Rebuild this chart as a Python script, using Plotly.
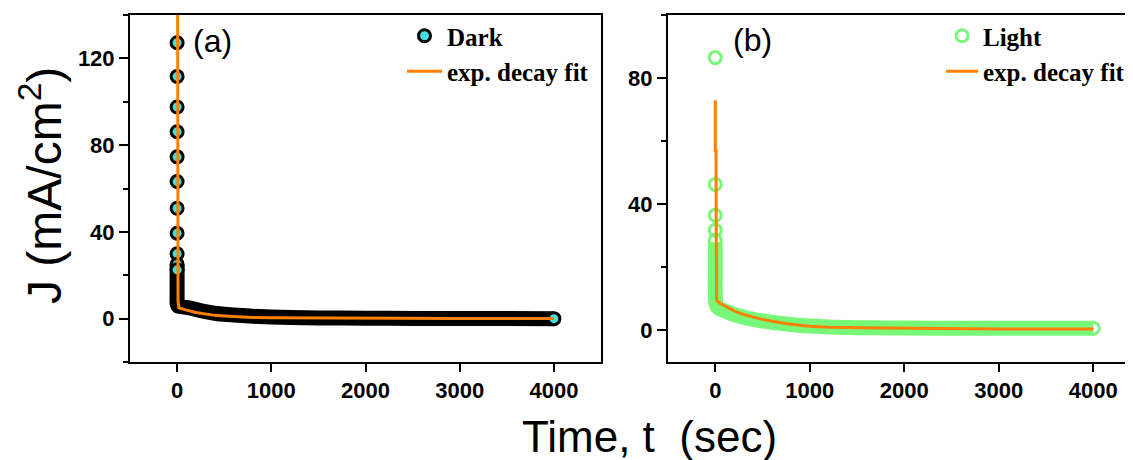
import plotly.graph_objects as go

# ---------------- data ----------------
# Panel (a): Dark
dark_spike_t = [0, 0, 0, 0, 0, 0, 0, 0, 0, 0, 0, 4000]
dark_spike_j = [127.2, 111.7, 97.6, 86.2, 74.6, 63.2, 50.9, 39.4, 29.9, 25.0, 22.5, 0.0]

dark_band_t = [0, 0, 0, 0, 0, 10, 30, 60, 100, 150, 200, 300, 400, 500, 600, 700,
               800, 1000, 1200, 1500, 2000, 2500, 3000, 3500, 4000]
dark_band_j = [25.0, 20.0, 15.0, 10.0, 7.0, 5.8, 5.6, 5.4, 5.2, 4.8, 4.2, 3.2, 2.5, 2.0,
               1.7, 1.4, 1.1, 0.8, 0.5, 0.3, 0.2, 0.1, 0.1, 0.1, 0.0]

dark_fit_t = [0, 2, 5, 10, 20, 50, 100, 200, 300, 400, 500, 600, 700, 800, 1000,
              1500, 2000, 3000, 4000]
dark_fit_j = [300.0, 60.0, 20.0, 8.0, 5.0, 4.5, 3.9, 2.8, 2.0, 1.5, 1.2, 0.9, 0.7, 0.5,
              0.35, 0.2, 0.15, 0.1, 0.1]

# Panel (b): Light
light_spike_t = [0, 0, 0, 0, 0, 4000]
light_spike_j = [86.5, 46.3, 36.5, 31.8, 28.6, 0.7]

light_band_t = [0, 0, 0, 0, 0, 5, 20, 50, 100, 150, 200, 300, 400, 500, 600, 700, 800,
                900, 1000, 1200, 1400, 1600, 1800, 2000, 2500, 3000, 3500, 4000]
light_band_j = [28.0, 24.0, 20.0, 16.0, 12.0, 9.0, 7.5, 6.8, 6.2, 5.6, 5.0, 4.2, 3.5,
                3.0, 2.6, 2.2, 1.9, 1.6, 1.4, 1.1, 0.95, 0.85, 0.8, 0.75, 0.7, 0.7,
                0.7, 0.7]

light_fit_t = [0, 0, 8, 10, 15, 50, 100, 200, 300, 400, 500, 600, 700, 800, 1000,
               1200, 1500, 2000, 2200, 2300, 3000, 4000]
light_fit_j = [73.0, 57.0, 57.0, 30.0, 9.5, 8.6, 7.8, 6.2, 5.0, 4.2, 3.5, 2.9, 2.4, 2.0,
               1.3, 1.0, 0.85, 0.75, 0.7, 0.55, 0.5, 0.45]

x_ticks = [0, 1000, 2000, 3000, 4000]

# ---------------- styles ----------------
CYAN = "#40E0E0"
GREEN = "#78F878"
ORANGE = "#FF7F00"
OFF = 8  # default page margin of the html body
W, H = 1133 - OFF, 460 - OFF
ML, MR, MT, MB = 130 - OFF, 0, 15 - OFF, 98
PW = W - ML - MR
PH = H - MT - MB


def px_x(p):
    """screen pixel x (reference) -> paper coordinate"""
    return (p - 130) / PW


def px_y(p):
    """screen pixel y (reference) -> paper coordinate"""
    return (362 - p) / PH


fig = go.Figure()

# Panel (a)
fig.add_trace(go.Scatter(x=dark_band_t, y=dark_band_j, mode="lines",
                         line=dict(color="black", width=15, shape="spline", smoothing=0.8),
                         showlegend=False, hoverinfo="skip", xaxis="x", yaxis="y"))
fig.add_trace(go.Scatter(x=dark_spike_t, y=dark_spike_j, mode="markers", name="Dark",
                         marker=dict(symbol="circle", size=12, color=CYAN,
                                     line=dict(color="black", width=3)),
                         xaxis="x", yaxis="y", legend="legend"))
fig.add_trace(go.Scatter(x=dark_fit_t, y=dark_fit_j, mode="lines", name="exp. decay fit",
                         line=dict(color=ORANGE, width=3),
                         xaxis="x", yaxis="y", legend="legend"))

# Panel (b)
fig.add_trace(go.Scatter(x=light_band_t, y=light_band_j, mode="lines",
                         line=dict(color=GREEN, width=15, shape="spline", smoothing=0.8),
                         showlegend=False, hoverinfo="skip", xaxis="x2", yaxis="y2"))
fig.add_trace(go.Scatter(x=light_spike_t, y=light_spike_j, mode="markers", name="Light",
                         marker=dict(symbol="circle-open", size=12, color=GREEN,
                                     line=dict(color=GREEN, width=3)),
                         xaxis="x2", yaxis="y2", legend="legend2"))
fig.add_trace(go.Scatter(x=light_fit_t, y=light_fit_j, mode="lines", name="exp. decay fit",
                         line=dict(color=ORANGE, width=3),
                         xaxis="x2", yaxis="y2", legend="legend2"))

tickfont = dict(family="Liberation Sans, Arial, sans-serif", size=22, color="black",
                weight="bold")
common_x = dict(tickmode="array", tickvals=x_ticks,
                ticks="outside", ticklen=8, tickwidth=2, tickcolor="black",
                showline=True, linewidth=2, linecolor="black", mirror=True,
                showgrid=False, zeroline=False, tickfont=tickfont)
common_y = dict(ticks="outside", ticklen=9, tickwidth=2, tickcolor="black",
                showline=True, linewidth=2, linecolor="black",
                showgrid=False, zeroline=False, tickfont=tickfont,
                tick0=0, dtick=40,
                minor=dict(tick0=0, dtick=20, ticks="outside", ticklen=5,
                           tickwidth=2, tickcolor="black", showgrid=False))

legend_font = dict(family="Liberation Serif, Times New Roman, serif", size=25,
                   color="black", weight="bold")

fig.update_layout(
    width=W, height=H,
    margin=dict(l=ML, r=MR, t=MT, b=MB, autoexpand=False),
    paper_bgcolor="white", plot_bgcolor="white",
    xaxis=dict(common_x, domain=[0, px_x(601)], range=[-500, 4500], anchor="y"),
    yaxis=dict(common_y, range=[-20, 140], mirror=True, anchor="x"),
    xaxis2=dict(common_x, domain=[px_x(668), 1.0], range=[-500, 4420], anchor="y2"),
    yaxis2=dict(common_y, range=[-10, 100], mirror=False, anchor="x2"),
    legend=dict(x=px_x(402), y=px_y(13), xanchor="left", yanchor="top",
                bgcolor="rgba(0,0,0,0)", borderwidth=0, font=legend_font,
                itemwidth=35),
    legend2=dict(x=px_x(941), y=px_y(13), xanchor="left", yanchor="top",
                 bgcolor="rgba(0,0,0,0)", borderwidth=0, font=legend_font,
                 itemwidth=32),
    showlegend=True,
    annotations=[
        dict(text="(a)", xref="paper", yref="paper", x=px_x(191), y=px_y(41),
             xanchor="left", yanchor="middle", showarrow=False,
             font=dict(family="Liberation Sans, Arial, sans-serif", size=32, color="black")),
        dict(text="(b)", xref="paper", yref="paper", x=px_x(731), y=px_y(40),
             xanchor="left", yanchor="middle", showarrow=False,
             font=dict(family="Liberation Sans, Arial, sans-serif", size=32, color="black")),
        dict(text="Time, t\u00a0 (sec)", xref="paper", yref="paper",
             x=px_x(649), y=px_y(436), xanchor="center", yanchor="middle",
             showarrow=False,
             font=dict(family="Liberation Sans, Arial, sans-serif", size=44, color="black")),
        dict(text="J (mA/cm<sup>2</sup>)", xref="paper", yref="paper",
             x=px_x(41), y=px_y(186), xanchor="center", yanchor="middle",
             textangle=-90, showarrow=False,
             font=dict(family="Liberation Sans, Arial, sans-serif", size=48, color="black")),
    ],
)

fig.write_html("out.html")
